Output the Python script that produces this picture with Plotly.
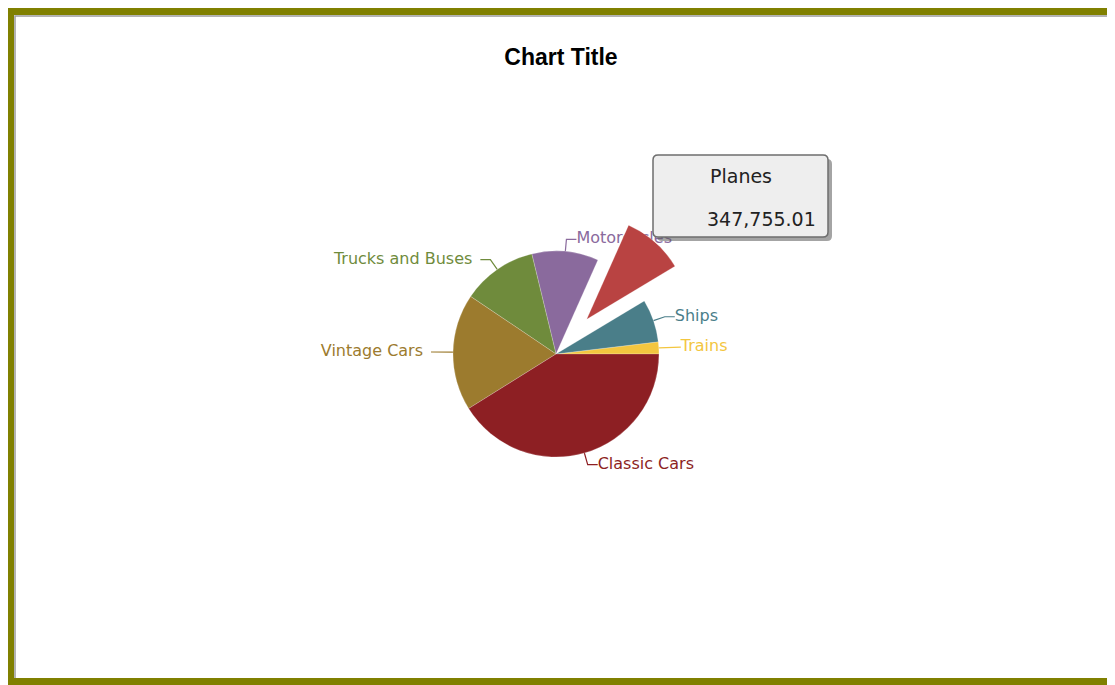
import math
import plotly.graph_objects as go

W, H = 1115, 685
PAGE = 8  # body margin of the page: axis units below are page pixels

product_lines = ["Trains", "Ships", "Planes", "Motorcycles", "Trucks and Buses", "Vintage Cars", "Classic Cars"]
sales = [67560.00, 240450.00, 347755.01, 373590.00, 421280.00, 655770.00, 1470510.00]
slice_colors = ["#f3c63f", "#4a7e89", "#b94342", "#8a6a9d", "#6f8b3c", "#9c7b2e", "#8d1f23"]
pulls = [0, 0, 0.45, 0, 0, 0, 0]
tooltip_item = "Planes"

# pie geometry in page pixels
cx, cy, radius = 556, 354, 103
half_box = radius * (1 + max(pulls))
dom_x = [(cx - PAGE - 1.4 * half_box) / W, (cx - PAGE + 1.4 * half_box) / W]
dom_y = [1 - (cy - PAGE + half_box) / H, 1 - (cy - PAGE - half_box) / H]

total = sum(sales)
# plotly ends the first counterclockwise slice at `rotation`; start it at 3 o'clock instead
first_angle = sales[0] / total * 360

fig = go.Figure()

# leader lines + labels (drawn under the pie, like the original)
cum = 0
lab_x, lab_y, lab_pos, lab_col, lab_txt = [], [], [], [], []
for name, v, col, p in zip(product_lines, sales, slice_colors, pulls):
    mid = math.radians((cum + v / 2) / total * 360)
    cum += v
    if name == tooltip_item:
        continue  # its label sits under the tooltip
    ca, sa = math.cos(mid), math.sin(mid)
    off = p * radius
    x0, y0 = cx + (radius + off) * ca, cy - (radius + off) * sa
    x1, y1 = cx + (radius + off + 12) * ca, cy - (radius + off + 12) * sa
    side = 1 if ca >= 0 else -1
    x2 = x1 + side * 10
    fig.add_trace(go.Scatter(x=[x0, x1, x2], y=[y0, y1, y1], mode="lines",
                             line=dict(color=col, width=1.2), hoverinfo="skip"))
    lab_x.append(x2 if side > 0 else x2 - 8)
    lab_y.append(y1)
    lab_pos.append("middle right" if side > 0 else "middle left")
    lab_col.append(col)
    lab_txt.append(name)

fig.add_trace(go.Scatter(x=lab_x, y=lab_y, mode="text", text=lab_txt,
                         textposition=lab_pos, hoverinfo="skip",
                         textfont=dict(family="DejaVu Sans", size=16, color=lab_col)))

fig.add_trace(go.Pie(labels=product_lines, values=sales, sort=False,
                     direction="counterclockwise", rotation=90 - first_angle, pull=pulls,
                     marker=dict(colors=slice_colors, line=dict(color="rgba(255,255,255,0.35)", width=0.6)),
                     textinfo="none", domain=dict(x=dom_x, y=dom_y),
                     hoverinfo="label+value"))

# frame (olive border, grey inner edge on top and left)
fig.add_shape(type="rect", x0=10, y0=11, x1=W + 40, y1=682,
              line=dict(color="#808000", width=8), layer="above")
fig.add_shape(type="path", path=f"M15,678 L15,16 L{W + 40},16",
              line=dict(color="#9a9a9a", width=1.5), layer="above")

# static tooltip for the pulled slice
tx0, ty0, tx1, ty1, rr = 653, 155, 828, 237, 5
def rounded(x0, y0, x1, y1, r):
    return (f"M{x0+r},{y0} L{x1-r},{y0} Q{x1},{y0} {x1},{y0+r} L{x1},{y1-r} Q{x1},{y1} {x1-r},{y1} "
            f"L{x0+r},{y1} Q{x0},{y1} {x0},{y1-r} L{x0},{y0+r} Q{x0},{y0} {x0+r},{y0} Z")
fig.add_shape(type="path", path=rounded(tx0 + 4, ty0 + 4, tx1 + 4, ty1 + 4, rr),
              fillcolor="rgba(90,90,90,0.55)", line=dict(width=0), layer="above")
fig.add_shape(type="path", path=rounded(tx0, ty0, tx1, ty1, rr),
              fillcolor="#eeeeee", line=dict(color="#6e6e6e", width=1.5), layer="above")
tip_val = sales[product_lines.index(tooltip_item)]
fig.add_annotation(x=(tx0 + tx1) / 2, y=ty0 + 21, text=tooltip_item, showarrow=False,
                   xanchor="center", yanchor="middle",
                   font=dict(family="DejaVu Sans", size=19, color="#222222"))
fig.add_annotation(x=tx1 - 10, y=ty0 + 64, text=f"{tip_val:,.2f}", showarrow=False,
                   xanchor="right", yanchor="middle",
                   font=dict(family="DejaVu Sans", size=19, color="#222222"))

fig.update_xaxes(range=[PAGE, W + PAGE], visible=False, fixedrange=True)
fig.update_yaxes(range=[H + PAGE, PAGE], visible=False, fixedrange=True)
fig.update_layout(width=W, height=H, margin=dict(l=0, r=0, t=0, b=0),
                  showlegend=False, paper_bgcolor="white", plot_bgcolor="white",
                  title=dict(text="Chart Title", x=(561 - PAGE) / W, xanchor="center",
                             y=1 - (57 - PAGE) / H, yanchor="middle", yref="container",
                             font=dict(family="Liberation Sans, Arial", size=23,
                                       color="black", weight="bold")))

fig.write_html("out.html")
